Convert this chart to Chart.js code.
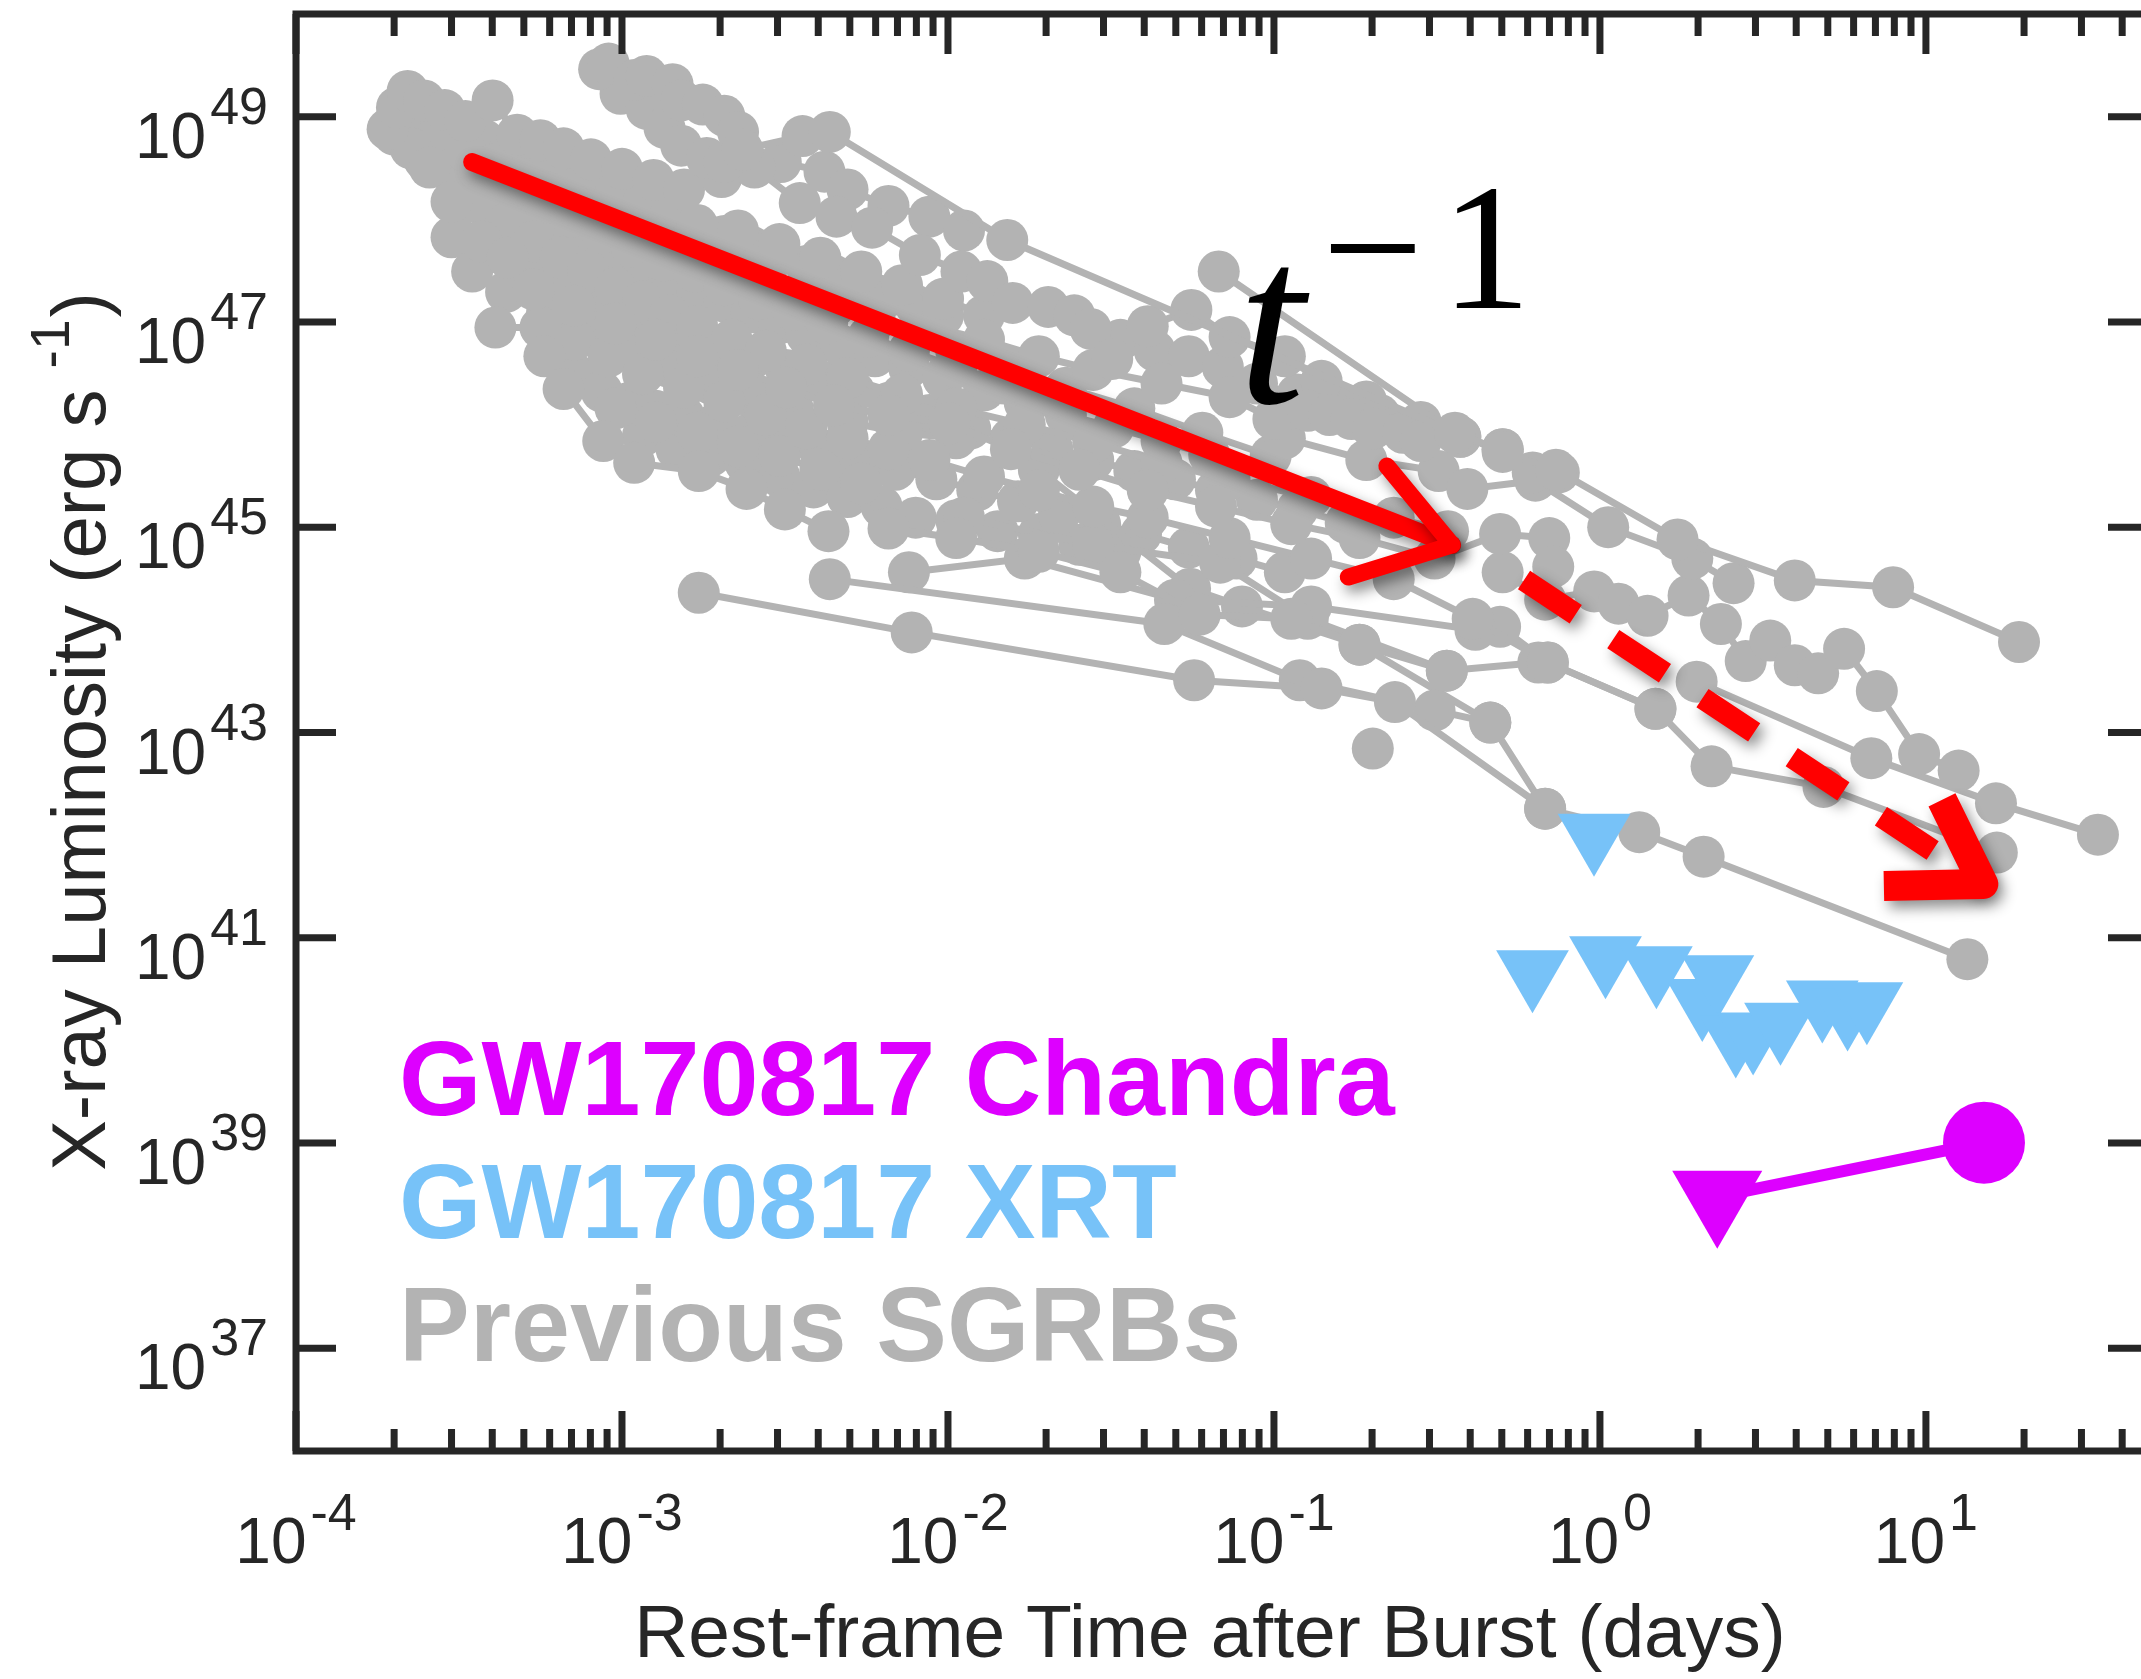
<!DOCTYPE html>
<html>
<head>
<meta charset="utf-8">
<script src="https://cdn.jsdelivr.net/npm/chart.js@4.4.1/dist/chart.umd.min.js"></script>
<style>
html,body{margin:0;padding:0;background:#ffffff;overflow:hidden;}
canvas{display:block;}
</style>
</head>
<body>
<canvas id="chart" width="2200" height="1679"></canvas>
<script>
// ---------------- axis definitions ----------------
const xLimits = [1e-4, 48];
const yLimits = [1e36, 1e50];
const xMajorTicks = [1e-4, 1e-3, 1e-2, 1e-1, 1, 10];
const xTickExponents = ['-4', '-3', '-2', '-1', '0', '1'];
const xMinorMultipliers = [2, 3, 4, 5, 6, 7, 8, 9];
const yMajorTicks = [1e37, 1e39, 1e41, 1e43, 1e45, 1e47, 1e49];
const yTickExponents = ['37', '39', '41', '43', '45', '47', '49'];
const xTitle = 'Rest-frame Time after Burst (days)';
const yTitleMain = 'X-ray Luminosity (erg s ';
const yTitleSup = '-1';
const yTitleEnd = ')';

// ---------------- legend ----------------
const legendLabels = ['GW170817 Chandra', 'GW170817 XRT', 'Previous SGRBs'];

// ---------------- previous SGRBs (time in days, luminosity in erg/s) ----------------
const sgrbTimes = [
  [8.51e-4,9.10e-4,1.09e-3,1.19e-3,1.43e-3,1.52e-3,1.77e-3,2.06e-3,2.27e-3,2.34e-3,3.58e-3,4.34e-3,1.52e-2,0.359,0.503,0.733,1.73,3.96,7.93,19.3],
  [9.9e-4,1.19e-3,1.35e-3,1.52e-3,1.82e-3,2.06e-3],
  [1.91e-4,2.04e-4,2.20e-4,2.47e-4,2.86e-4,3.31e-4,4.01e-4,4.77e-4,5.62e-4,6.62e-4,8.03e-4,1.00e-3,1.25e-3,1.55e-3,2.02e-3,2.55e-3,3.51e-3,4.55e-3,5.85e-3,8.20e-3,1.10e-2,1.32e-2,1.58e-2,2.03e-2,2.44e-2,2.74e-2,3.19e-2],
  [1.29e-2,1.90e-2,2.79e-2,4.52e-2,7.31e-2,9.96e-2,0.127,0.148,0.173,0.201,0.249,0.282,0.373,0.503,0.622,0.748],
  [6.77e-2,0.373,0.503],
  [4.10e-2,5.58e-2,7.31e-2,0.108,0.140,0.192,0.282],
  [0.108,0.192,0.320,0.392,0.634,1.06,1.92,2.57],
  [2.25e-4,2.57e-4,3.00e-4,3.71e-4,4.46e-4,5.35e-4,7.15e-4,9.55e-4,1.27e-3,1.70e-3,2.27e-3,3.19e-3,4.47e-3,6.57e-3,1.01e-2,1.56e-2,2.53e-2,4.10e-2,6.64e-2,0.113,0.183,0.311,0.494,0.699,0.719],
  [2.73e-4,3.31e-4,4.01e-4,4.86e-4,5.89e-4,7.15e-4,8.67e-4,1.05e-3,1.27e-3,1.55e-3,1.87e-3,2.27e-3,2.76e-3,3.51e-3,4.47e-3,5.97e-3,7.96e-3,1.06e-2,1.56e-2,2.30e-2,3.73e-2,6.03e-2,9.77e-2],
  [3.64e-4,4.41e-4,5.35e-4,6.49e-4,7.87e-4,9.55e-4,1.16e-3,1.40e-3,1.70e-3,2.17e-3,2.76e-3,3.68e-3,4.92e-3,7.23e-3,1.06e-2,1.72e-2,2.79e-2,4.52e-2,7.31e-2,0.130,0.233,0.342],
  [4.09e-4,5.62e-4,5.78e-4,6.62e-4,8.76e-4,1.09e-3,1.72e-3,2.41e-3,3.16e-3,4.30e-3],
  [7.15e-4,9.10e-4,1.16e-3,1.55e-3,2.06e-3,2.76e-3,3.68e-3,4.92e-3,6.57e-3,8.77e-3,1.29e-2,1.90e-2,2.79e-2,4.10e-2,7.31e-2,0.130,0.233,0.407,0.692,1.48],
  [9.55e-4,1.27e-3,1.70e-3,2.27e-3,3.04e-3,4.06e-3,5.42e-3,6.57e-3,1.06e-2,1.90e-2,3.38e-2,5.92e-2,0.113,0.183,0.339,0.647],
  [2.27e-3,3.04e-3,4.06e-3,5.42e-3,7.23e-3,9.66e-3,1.29e-2],
  [3.07e-3,4.18e-3,4.92e-3,6.57e-3,8.77e-3,1.12e-2],
  [1.72e-3,7.74e-3,5.69e-2,0.140,0.235,0.679,1.32,2.08,13.4],
  [4.34e-3,4.61e-2,0.120,0.311,0.461,0.679],
  [7.59e-3,1.72e-2,4.97e-2,0.130,0.415],
  [0.201],
  [0.494,0.692,1.48,2.20,4.85,16.5],
  [0.503,0.679,0.960,1.14,1.40,1.87,2.35,2.80,3.33,3.96,4.67,5.61,7.07,9.53,12.6],
  [1.98,6.80,16.4,33.7],
  [3.00e-4,3.47e-4,4.41e-4,5.89e-4,7.87e-4,1.05e-3,1.40e-3,1.87e-3,2.50e-3,3.34e-3,4.92e-3,7.23e-3,1.06e-2],
  [2.00e-4,2.25e-4,2.60e-4,3.00e-4,3.47e-4,4.09e-4,4.86e-4,5.78e-4,7.01e-4,8.67e-4,1.07e-3,1.34e-3,1.67e-3,2.06e-3,2.63e-3,3.34e-3,4.26e-3,5.69e-3,7.59e-3,1.06e-2,1.49e-2,2.09e-2],
  [1.12e-2,2.79e-2,6.84e-2,0.127,0.339],
  [1.90e-2,5.53e-2,7.98e-2,0.183,0.461],
  [2.25e-4,2.67e-4,3.18e-4,3.78e-4,4.50e-4,5.35e-4,6.49e-4,7.87e-4,9.55e-4,1.16e-3,1.40e-3,1.70e-3,2.06e-3,2.50e-3,3.04e-3,3.68e-3,4.47e-3,5.42e-3,6.57e-3,7.96e-3,9.66e-3],
  [2.47e-4,3.00e-4,3.64e-4,4.41e-4,5.35e-4,6.49e-4,7.87e-4,9.55e-4,1.16e-3,1.40e-3,1.70e-3,2.06e-3,2.50e-3,3.04e-3,3.68e-3,4.69e-3,5.97e-3,7.59e-3,9.66e-3,1.29e-2,1.72e-2,2.30e-2,3.22e-2,4.52e-2,6.33e-2],
  [4.86e-4,5.89e-4,7.15e-4,8.67e-4,1.05e-3,1.27e-3,1.55e-3,1.97e-3,2.50e-3,3.19e-3,4.06e-3,5.16e-3,6.57e-3,8.77e-3,1.17e-2,1.56e-2,2.09e-2,2.79e-2,3.73e-2,4.97e-2,6.64e-2,8.87e-2,0.118,0.166],
  [7.15e-4,8.67e-4,1.05e-3,1.27e-3,1.55e-3,1.97e-3,2.50e-3,3.19e-3,4.06e-3,5.16e-3,6.90e-3,9.21e-3,1.23e-2,1.64e-2,2.19e-2,2.93e-2,3.91e-2,5.48e-2,7.68e-2,0.108],
  [1.16e-3,1.47e-3,1.87e-3,2.39e-3,3.04e-3,3.87e-3,4.92e-3,6.26e-3,7.96e-3,1.06e-2,1.42e-2,1.90e-2,2.53e-2,3.38e-2],
  [3.38e-2,4.31e-2,5.48e-2,6.97e-2,8.87e-2,0.118,0.158,0.211,0.282]
];
const sgrbLum = [
  [2.90e49,3.29e49,2.27e49,2.49e49,2.07e49,1.44e49,1.31e49,1.02e49,7.09e48,4.76e48,6.46e48,7.09e48,6.28e47,8.32e45,5.41e45,3.63e45,7.60e44,3.03e44,2.60e44,7.62e43],
  [1.67e49,1.19e49,7.77e48,5.21e48,3.96e48,3.61e48],
  [7.54e48,1.23e49,1.78e49,1.44e49,1.16e49,9.06e48,1.44e49,6.67e48,5.90e48,4.91e48,3.84e48,3.10e48,2.42e48,1.95e48,2.58e48,3.19e48,1.44e48,1.06e48,8.28e47,4.48e47,3.10e47,2.50e47,1.53e47,1.40e47,1.16e47,8.55e46,4.36e46],
  [6.70e46,4.63e46,3.41e46,2.51e46,1.85e46,1.13e46,1.36e46,1.24e46,1.13e46,9.12e45,8.32e45,6.92e45,7.59e45,5.76e45,3.42e45,3.42e45],
  [3.10e47,7.59e45,5.76e45],
  [9.10e46,1.31e47,7.12e46,4.63e46,2.67e46,1.68e46,1.06e46],
  [7.36e45,4.51e45,3.52e45,2.36e45,2.84e45,1.00e45,4.95e44,2.85e44],
  [4.91e48,3.19e48,1.48e48,6.09e47,4.22e47,2.08e47,1.44e47,9.67e46,6.70e46,4.63e46,3.41e46,2.29e46,1.54e46,1.24e46,1.03e46,5.76e45,3.63e45,2.29e45,1.59e45,1.07e45,7.84e44,4.95e44,8.60e44,7.84e44,4.12e44],
  [6.67e48,4.61e48,3.39e48,2.50e48,1.84e48,1.35e48,1.06e48,8.28e47,6.48e47,4.91e47,3.96e47,3.10e47,2.43e47,1.79e47,1.40e47,1.03e47,7.57e46,5.24e46,3.63e46,2.29e46,1.44e46,8.32e45,4.94e45],
  [1.44e48,9.08e47,6.09e47,4.22e47,3.10e47,2.15e47,1.58e47,1.16e47,9.10e46,6.70e46,5.24e46,3.85e46,2.84e46,1.96e46,1.44e46,1.00e46,6.71e45,4.24e45,2.93e45,1.97e45,1.24e45,9.14e44],
  [8.82e46,8.82e46,4.63e46,2.22e46,6.92e45,4.24e45,3.52e45,2.36e45,1.49e45,9.14e44],
  [6.70e46,4.63e46,3.11e46,2.29e46,1.68e46,1.24e46,9.12e45,7.36e45,5.76e45,4.51e45,3.12e45,2.29e45,1.59e45,1.24e45,7.84e44,4.95e44,3.12e44,1.28e44,4.81e43,1.70e43],
  [1.44e46,1.06e46,8.32e45,6.12e45,4.94e45,3.63e45,2.67e45,9.72e44,7.84e44,5.77e44,3.64e44,1.41e44,1.28e44,7.17e43,4.00e43,4.81e43],
  [7.78e47,5.73e47,4.22e47,3.10e47,2.28e47,1.68e47,1.16e47],
  [3.61e48,2.91e48,1.95e48,1.35e48,1.06e48,7.78e47],
  [2.30e44,9.45e43,3.23e43,2.69e43,1.98e43,1.81e42,1.07e42,6.17e41,6.19e40],
  [3.12e44,1.14e44,3.23e43,1.64e43,1.25e43,1.81e42],
  [3.64e44,4.95e44,1.97e44,1.69e44,1.00e44],
  [6.97e42],
  [1.07e44,4.81e43,1.70e43,4.68e42,2.95e42,6.77e41],
  [3.64e44,1.97e44,2.37e44,1.80e44,1.37e44,2.16e44,1.14e44,4.96e43,7.86e43,4.52e43,3.77e43,6.54e43,2.53e43,6.16e42,4.26e42],
  [3.13e43,5.62e42,2.04e42,1.01e42],
  [6.68e47,3.10e47,1.96e47,1.24e47,7.80e46,5.74e46,3.63e46,2.51e46,1.85e46,1.44e46,1.06e46,8.32e45,7.36e45],
  [6.67e48,8.52e48,6.67e48,5.21e48,3.84e48,2.82e48,1.95e48,1.44e48,1.06e48,7.32e47,5.39e47,3.96e47,3.10e47,2.28e47,1.68e47,1.31e47,9.67e46,7.12e46,5.24e46,3.63e46,2.51e46,1.85e46],
  [1.24e45,6.73e44,4.51e44,1.28e44,4.00e43],
  [3.63e45,2.52e44,1.69e44,7.17e43,1.25e43],
  [1.16e49,9.63e48,7.54e48,5.90e48,4.61e48,3.61e48,2.82e48,2.28e48,1.78e48,1.44e48,1.06e48,8.80e47,6.89e47,5.39e47,4.48e47,3.51e47,2.83e47,2.28e47,1.79e47,1.44e47,1.16e47],
  [3.84e48,2.82e48,2.08e48,1.58e48,1.13e48,8.28e47,6.09e47,4.48e47,3.30e47,2.58e47,1.96e47,1.58e47,1.24e47,9.67e46,7.57e46,5.92e46,4.63e46,3.63e46,2.84e46,2.15e46,1.63e46,1.24e46,9.40e45,6.92e45,5.09e45],
  [3.62e47,2.66e47,2.15e47,1.68e47,1.31e47,9.67e46,7.57e46,5.57e46,4.36e46,3.41e46,2.67e46,2.09e46,1.63e46,1.24e46,9.12e45,7.36e45,5.76e45,4.51e45,3.52e45,2.93e45,2.29e45,1.85e45,1.49e45,1.10e45],
  [3.11e46,2.09e46,1.63e46,1.36e46,1.20e46,1.06e46,8.32e45,6.71e45,5.41e45,4.51e45,3.63e45,2.93e45,2.29e45,1.79e45,1.32e45,1.07e45,8.60e44,6.33e44,4.95e44,3.64e44],
  [7.82e45,5.76e45,4.94e45,4.24e45,3.12e45,2.44e45,1.97e45,1.59e45,1.24e45,1.17e45,9.14e44,8.60e44,6.73e44,5.77e44],
  [6.70e46,5.24e46,4.63e46,3.63e46,2.51e46,1.96e46,1.63e46,1.24e46,1.00e46]
];

// ---------------- GW170817 ----------------
const xrtTimes = [0.621, 0.959, 1.04, 1.49, 2.06, 2.30, 2.61, 2.95, 3.58, 4.81, 5.75, 6.59];
const xrtLum   = [4.71e40, 1.01e42, 6.45e40, 5.15e40, 2.48e40, 4.21e40, 1.09e40, 1.17e40, 1.45e40, 2.40e40, 2.0e40, 2.30e40];
const chandraTimes = [2.29, 15.07];
const chandraLum   = [3.0e38, 1.01e39];

// ---------------- t^-1 guide arrows (data coordinates): start, tip, wing A, wing B ----------------
const solidArrowT = [3.47e-4, 0.352, 0.222, 0.169];
const solidArrowL = [3.61e48, 6.71e44, 3.95e45, 3.27e44];
const dashedArrowT = [0.585, 15.0, 11.2, 7.43];
const dashedArrowL = [3.06e44, 3.34e41, 2.20e42, 3.19e41];
const powerLawLabelT = [0.0776];
const powerLawLabelL = [1.62e46];

// ---------------- styling ----------------
const AX = '#262626';
const GRAY = '#B3B3B3';
const BLUE = '#77C2F8';
const MAGENTA = '#DD00FF';
const RED = '#FF0000';
const SANS = '"Liberation Sans", Arial, Helvetica, sans-serif';
const SERIF = '"Liberation Serif", "Times New Roman", serif';

const datasets = [];
datasets.push({
  label: 'GW170817 Chandra',
  data: chandraTimes.map((t, i) => ({x: t, y: chandraLum[i]})),
  showLine: true,
  borderColor: MAGENTA,
  borderWidth: 12,
  backgroundColor: MAGENTA,
  pointBackgroundColor: MAGENTA,
  pointBorderWidth: 0,
  pointStyle: ['triangle', 'circle'],
  pointRotation: [180, 0],
  pointRadius: [52, 41],
  pointHoverRadius: [52, 41],
  order: 0
});
datasets.push({
  label: 'GW170817 XRT',
  data: xrtTimes.map((t, i) => ({x: t, y: xrtLum[i]})),
  showLine: false,
  backgroundColor: BLUE,
  pointBackgroundColor: BLUE,
  pointBorderWidth: 0,
  pointStyle: 'triangle',
  pointRotation: 180,
  pointRadius: 42,
  pointHoverRadius: 42,
  order: 1
});
sgrbTimes.forEach((ts, i) => {
  datasets.push({
    label: 'SGRB ' + (i + 1),
    data: ts.map((t, j) => ({x: t, y: sgrbLum[i][j]})),
    showLine: true,
    borderColor: GRAY,
    borderWidth: 7,
    backgroundColor: GRAY,
    pointBackgroundColor: GRAY,
    pointBorderWidth: 0,
    pointRadius: 21,
    pointHoverRadius: 21,
    order: 2
  });
});

function drawArrow(ctx, xs, ys, shaftWidth, headWidth, dashed) {
  ctx.save();
  ctx.shadowColor = 'rgba(0,0,0,0.45)';
  ctx.shadowBlur = 14;
  ctx.shadowOffsetX = 5;
  ctx.shadowOffsetY = 7;
  ctx.strokeStyle = RED;
  ctx.lineWidth = shaftWidth;
  ctx.lineCap = dashed ? 'butt' : 'round';
  ctx.lineJoin = 'round';
  if (dashed) ctx.setLineDash([62, 45]);
  ctx.beginPath();
  ctx.moveTo(xs[0], ys[0]);
  ctx.lineTo(xs[1], ys[1]);
  ctx.stroke();
  ctx.setLineDash([]);
  ctx.lineWidth = headWidth;
  ctx.lineCap = dashed ? 'butt' : 'round';
  ctx.beginPath();
  ctx.moveTo(xs[2], ys[2]);
  ctx.lineTo(xs[1], ys[1]);
  ctx.lineTo(xs[3], ys[3]);
  ctx.stroke();
  ctx.restore();
}

const annotationPlugin = {
  id: 'annotations',
  afterDatasetsDraw(chart) {
    const {ctx, chartArea: a, scales: {x, y}} = chart;
    drawArrow(ctx, solidArrowT.map(v => x.getPixelForValue(v)), solidArrowL.map(v => y.getPixelForValue(v)), 18, 17, false);
    drawArrow(ctx, dashedArrowT.map(v => x.getPixelForValue(v)), dashedArrowL.map(v => y.getPixelForValue(v)), 22, 30, true);
    const lx = x.getPixelForValue(powerLawLabelT[0]);
    const ly = y.getPixelForValue(powerLawLabelL[0]);
    ctx.save();
    ctx.fillStyle = '#000000';
    ctx.textAlign = 'left';
    ctx.textBaseline = 'alphabetic';
    ctx.font = 'italic 240px ' + SERIF;
    ctx.fillText('t', lx, ly);
    ctx.font = '180px ' + SERIF;
    ctx.fillText('\u2212', lx + 84, ly - 95);
    ctx.fillText('1', lx + 203, ly - 95);
    ctx.restore();
    ctx.save();
    ctx.font = 'bold 106px ' + SANS;
    ctx.textAlign = 'left';
    ctx.textBaseline = 'alphabetic';
    const cols = [MAGENTA, BLUE, GRAY];
    legendLabels.forEach((s, i) => {
      ctx.fillStyle = cols[i];
      ctx.fillText(s, a.left + 103, a.top + 1101 + i * 123);
    });
    ctx.restore();
  }
};

const axesPlugin = {
  id: 'matlabAxes',
  afterDraw(chart) {
    const {ctx, chartArea: a, scales: {x, y}} = chart;
    ctx.save();
    ctx.strokeStyle = AX;
    ctx.lineWidth = 7;
    ctx.lineCap = 'butt';
    ctx.strokeRect(a.left, a.top, a.right - a.left, a.bottom - a.top);
    const major = 40, minor = 22;
    ctx.beginPath();
    xMajorTicks.forEach(v => {
      const p = x.getPixelForValue(v);
      ctx.moveTo(p, a.bottom); ctx.lineTo(p, a.bottom - major);
      ctx.moveTo(p, a.top); ctx.lineTo(p, a.top + major);
      xMinorMultipliers.forEach(m => {
        const mv = v * m;
        if (mv < xLimits[1]) {
          const q = x.getPixelForValue(mv);
          ctx.moveTo(q, a.bottom); ctx.lineTo(q, a.bottom - minor);
          ctx.moveTo(q, a.top); ctx.lineTo(q, a.top + minor);
        }
      });
    });
    yMajorTicks.forEach(v => {
      const p = y.getPixelForValue(v);
      ctx.moveTo(a.left, p); ctx.lineTo(a.left + major, p);
      ctx.moveTo(a.right, p); ctx.lineTo(a.right - major, p);
    });
    ctx.stroke();

    ctx.fillStyle = AX;
    ctx.textBaseline = 'alphabetic';
    const baseFont = '64px ' + SANS;
    const expFont = '52px ' + SANS;
    yMajorTicks.forEach((v, i) => {
      const p = y.getPixelForValue(v);
      ctx.textAlign = 'right';
      ctx.font = expFont;
      const ew = ctx.measureText(yTickExponents[i]).width;
      const expRight = a.left - 28;
      ctx.fillText(yTickExponents[i], expRight, p + 7);
      ctx.font = baseFont;
      ctx.fillText('10', expRight - ew - 4, p + 41);
    });
    xMajorTicks.forEach((v, i) => {
      const p = x.getPixelForValue(v);
      ctx.textAlign = 'left';
      ctx.font = baseFont;
      const bw = ctx.measureText('10').width;
      ctx.font = expFont;
      const ew = ctx.measureText(xTickExponents[i]).width;
      const start = p - (bw + 4 + ew) / 2;
      ctx.font = baseFont;
      ctx.fillText('10', start, a.bottom + 112);
      ctx.font = expFont;
      ctx.fillText(xTickExponents[i], start + bw + 4, a.bottom + 79);
    });

    ctx.font = '75px ' + SANS;
    ctx.textAlign = 'center';
    ctx.fillText(xTitle, (a.left + a.right) / 2 - 12, a.bottom + 206);

    ctx.save();
    ctx.translate(a.left - 191, (a.top + a.bottom) / 2);
    ctx.rotate(-Math.PI / 2);
    ctx.textAlign = 'left';
    ctx.font = '76px ' + SANS;
    const w1 = ctx.measureText(yTitleMain).width;
    const w3 = ctx.measureText(yTitleEnd).width;
    ctx.font = '55px ' + SANS;
    const w2 = ctx.measureText(yTitleSup).width;
    let s = -(w1 + w2 + w3) / 2;
    ctx.font = '76px ' + SANS;
    ctx.fillText(yTitleMain, s, 0);
    s += w1;
    ctx.font = '55px ' + SANS;
    ctx.fillText(yTitleSup, s, -36);
    s += w2 + 2;
    ctx.font = '76px ' + SANS;
    ctx.fillText(yTitleEnd, s, 0);
    ctx.restore();
    ctx.restore();
  }
};

new Chart(document.getElementById('chart').getContext('2d'), {
  type: 'scatter',
  data: {datasets},
  options: {
    responsive: false,
    animation: false,
    devicePixelRatio: 1,
    events: [],
    layout: {autoPadding: false, padding: {left: 296, top: 14, right: 52, bottom: 228}},
    plugins: {legend: {display: false}, tooltip: {enabled: false}},
    elements: {line: {tension: 0}},
    scales: {
      x: {type: 'logarithmic', min: xLimits[0], max: xLimits[1], display: false},
      y: {type: 'logarithmic', min: yLimits[0], max: yLimits[1], display: false}
    }
  },
  plugins: [annotationPlugin, axesPlugin]
});
</script>
</body>
</html>
